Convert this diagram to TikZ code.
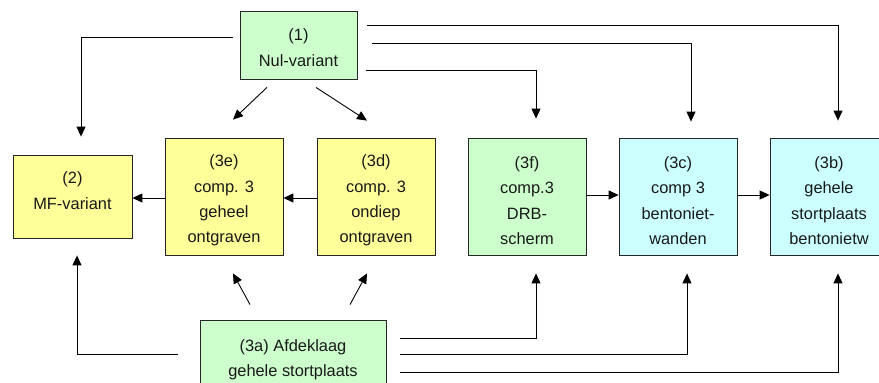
\documentclass[tikz,border=0pt]{standalone}
\usepackage{fontspec}
\setmainfont{Liberation Sans}
\usetikzlibrary{arrows.meta}
\definecolor{gfill}{HTML}{CCFFCC}
\definecolor{yfill}{HTML}{FFFF99}
\definecolor{cfill}{HTML}{CCFFFF}
\newcommand{\upx}[1]{\rule{0pt}{#1}}
\newcommand{\dnx}[1]{\rule[-#1]{0pt}{#1}}
\begin{document}
\begin{tikzpicture}[x=1pt,y=-1pt,
  box/.style={draw=black!85,line width=0.8pt,inner sep=0pt,align=center,
    font=\fontsize{16.4}{25.3}\selectfont,text=black!90},
  arr/.style={draw=black,line width=0.9pt,-{Triangle[length=10pt,width=9pt]}}]
\useasboundingbox (0,0) rectangle (879,383);
\fill[white] (0,0) rectangle (879,383);
\node[box,fill=gfill,minimum width=117pt,minimum height=68pt] (n1) at (298.5,45) {\upx{17pt}(1)\\Nul-variant};
\node[box,fill=yfill,minimum width=119pt,minimum height=83pt] (n2) at (72.5,196.5) {(2)\\MF-variant\dnx{12pt}};
\node[box,fill=yfill,minimum width=118pt,minimum height=117pt] (n3e) at (224,196.5) {\upx{20pt}(3e)\\comp. 3\\geheel\\ontgraven};
\node[box,fill=yfill,minimum width=118pt,minimum height=117pt] (n3d) at (376,196.5) {\upx{20pt}(3d)\\comp. 3\\ondiep\\ontgraven};
\node[box,fill=gfill,minimum width=118pt,minimum height=117pt] (n3f) at (527,196.5) {\upx{20pt}(3f)\\comp.3\\DRB-\\scherm};
\node[box,fill=cfill,minimum width=118pt,minimum height=117pt] (n3c) at (678,196.5) {\upx{20pt}(3c)\\comp 3\\bentoniet-\\wanden};
\node[box,fill=cfill,minimum width=118pt,minimum height=117pt] (n3b) at (829,196.5) {\upx{20pt}(3b)\\gehele\\stortplaats\\bentonietw};
\node[box,fill=gfill,minimum width=186pt,minimum height=72pt] (n3a) at (293,356) {\upx{20pt}(3a) Afdeklaag\\gehele stortplaats};
% from (1)
\draw[arr,shorten <=7pt,shorten >=18pt] ([yshift=8pt]n1.west) -| ([xshift=8.5pt]n2.north);
\draw[arr,shorten <=9pt,shorten >=19pt] ([yshift=-25pt]n1.east) -| ([xshift=9pt]n3f.north);
\draw[arr,shorten <=15pt,shorten >=16pt] ([yshift=2pt]n1.east) -| ([xshift=13pt]n3c.north);
\draw[arr,shorten <=10pt,shorten >=17pt] ([yshift=20pt]n1.east) -| ([xshift=9pt]n3b.north);
\draw[arr] ([shift={(-31.5pt,-8pt)}]n1.south) -- ([shift={(9pt,18pt)}]n3e.north);
\draw[arr] ([shift={(17.5pt,-8pt)}]n1.south) -- ([shift={(-9pt,17pt)}]n3d.north);
% horizontal
\draw[arr] ([yshift=-1.5pt]n3e.west) -- ([yshift=-1.5pt]n2.east);
\draw[arr] ([yshift=-1.5pt]n3d.west) -- ([yshift=-1.5pt]n3e.east);
\draw[arr] ([yshift=1.5pt]n3f.east) -- ([yshift=1.5pt]n3c.west);
\draw[arr] ([yshift=1.5pt]n3c.east) -- ([yshift=1.5pt]n3b.west);
% from (3a)
\draw[arr,shorten <=22pt,shorten >=17pt] ([yshift=2pt]n3a.west) -| ([xshift=4.5pt]n2.south);
\draw[arr] ([shift={(-43pt,15pt)}]n3a.north) -- ([shift={(9pt,-18pt)}]n3e.south);
\draw[arr] ([shift={(57pt,15pt)}]n3a.north) -- ([shift={(-9pt,-18pt)}]n3d.south);
\draw[arr,shorten <=14pt,shorten >=18pt] ([yshift=18pt]n3a.east) -| ([xshift=9pt]n3f.south);
\draw[arr,shorten <=14pt,shorten >=18pt] ([yshift=2pt]n3a.east) -| ([xshift=9pt]n3c.south);
\draw[arr,shorten <=14pt,shorten >=18pt] ([yshift=-16pt]n3a.east) -| ([xshift=9pt]n3b.south);
\end{tikzpicture}
\end{document}
